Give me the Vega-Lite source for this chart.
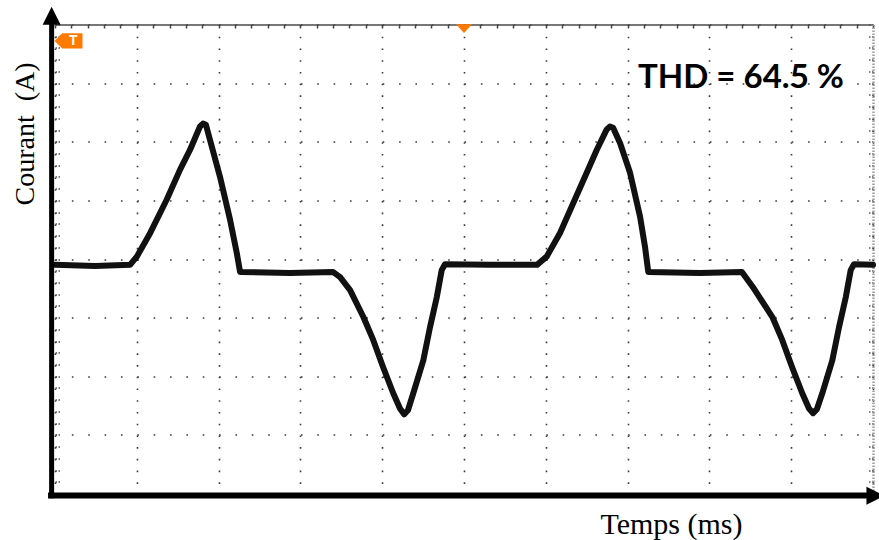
{
  "$schema": "https://vega.github.io/schema/vega-lite/v6.json",
  "width": 818,
  "height": 469,
  "autosize": "none",
  "padding": {"left": 55, "top": 24.5, "right": 6, "bottom": 46.5},
  "background": "white",
  "config": {"view": {"stroke": null}},
  "datasets": {
    "trace": [
      {"t": 0.00, "v": -0.10}, {"t": 1.96, "v": -0.12}, {"t": 3.67, "v": -0.10},
      {"t": 4.00, "v": 0.04}, {"t": 4.65, "v": 0.44}, {"t": 5.46, "v": 1.01},
      {"t": 6.11, "v": 1.52}, {"t": 6.60, "v": 1.86}, {"t": 7.09, "v": 2.26},
      {"t": 7.24, "v": 2.31}, {"t": 7.38, "v": 2.29}, {"t": 7.58, "v": 2.03},
      {"t": 8.07, "v": 1.40}, {"t": 8.56, "v": 0.67}, {"t": 8.89, "v": 0.10},
      {"t": 9.05, "v": -0.22}, {"t": 11.49, "v": -0.24}, {"t": 13.59, "v": -0.22},
      {"t": 13.94, "v": -0.31}, {"t": 14.43, "v": -0.53}, {"t": 15.08, "v": -0.99},
      {"t": 15.56, "v": -1.38}, {"t": 16.05, "v": -1.85}, {"t": 16.54, "v": -2.29},
      {"t": 16.87, "v": -2.55}, {"t": 17.07, "v": -2.65}, {"t": 17.26, "v": -2.58},
      {"t": 17.52, "v": -2.29}, {"t": 18.01, "v": -1.73}, {"t": 18.34, "v": -1.16},
      {"t": 18.67, "v": -0.65}, {"t": 18.91, "v": -0.19}, {"t": 19.07, "v": -0.09},
      {"t": 21.27, "v": -0.10}, {"t": 23.57, "v": -0.10}, {"t": 24.04, "v": 0.04},
      {"t": 24.69, "v": 0.44}, {"t": 25.35, "v": 0.96}, {"t": 26.00, "v": 1.47},
      {"t": 26.49, "v": 1.86}, {"t": 26.98, "v": 2.21}, {"t": 27.14, "v": 2.26},
      {"t": 27.29, "v": 2.24}, {"t": 27.63, "v": 1.98}, {"t": 28.12, "v": 1.47},
      {"t": 28.61, "v": 0.72}, {"t": 28.85, "v": 0.21}, {"t": 29.01, "v": -0.22},
      {"t": 31.54, "v": -0.24}, {"t": 33.59, "v": -0.22}, {"t": 34.13, "v": -0.48},
      {"t": 35.08, "v": -0.99}, {"t": 35.56, "v": -1.38}, {"t": 36.05, "v": -1.85},
      {"t": 36.54, "v": -2.29}, {"t": 36.87, "v": -2.55}, {"t": 37.07, "v": -2.63},
      {"t": 37.26, "v": -2.56}, {"t": 37.52, "v": -2.29}, {"t": 38.01, "v": -1.73},
      {"t": 38.34, "v": -1.16}, {"t": 38.67, "v": -0.65}, {"t": 38.91, "v": -0.19},
      {"t": 39.07, "v": -0.09}, {"t": 40.00, "v": -0.10}
    ]
  },
  "layer": [
    {
      "description": "Current waveform with the scope graticule (bottom and left axes)",
      "data": {"name": "trace"},
      "mark": {"type": "line", "color": "#111111", "strokeWidth": 6, "strokeJoin": "round", "strokeCap": "round"},
      "encoding": {
        "x": {
          "field": "t", "type": "quantitative",
          "scale": {"domain": [0, 40], "nice": false, "zero": false},
          "axis": {
            "orient": "bottom",
            "values": [0, 4, 8, 12, 16, 20, 24, 28, 32, 36, 40],
            "grid": true, "gridColor": "#3a3a3a", "gridWidth": 1.6, "gridDash": [1.6, 10.125],
            "ticks": false, "labels": false, "domain": false,
            "title": "Temps (ms)",
            "titleFont": "Liberation Serif", "titleFontSize": 30, "titleFontWeight": "normal", "titleColor": "#000000",
            "titleX": 616, "titleY": 39.5, "titleAlign": "center", "titleBaseline": "alphabetic"
          }
        },
        "y": {
          "field": "v", "type": "quantitative",
          "scale": {"domain": [-4, 4], "nice": false, "zero": false},
          "axis": {
            "orient": "left",
            "values": [-4, -3.8, -3.6, -3.4, -3.2, -3, -2.8, -2.6, -2.4, -2.2, -2, -1.8, -1.6, -1.4, -1.2, -1, -0.8, -0.6, -0.4, -0.2, 0, 0.2, 0.4, 0.6, 0.8, 1, 1.2, 1.4, 1.6, 1.8, 2, 2.2, 2.4, 2.6, 2.8, 3, 3.2, 3.4, 3.6, 3.8, 4],
            "grid": true, "gridColor": "#3a3a3a", "gridWidth": 1.6, "gridDash": [1.6, 14.76],
            "gridOpacity": {"condition": {"test": "abs(datum.value - round(datum.value)) < 0.01", "value": 1}, "value": 0},
            "ticks": true, "tickSize": -5, "tickColor": "#555555", "tickWidth": 1.5, "tickDash": [1.5, 1.5],
            "labels": false, "domain": false,
            "title": "Courant\u00a0 (A)",
            "titleFont": "Liberation Serif", "titleFontSize": 28, "titleFontWeight": "normal", "titleColor": "#000000",
            "titleAngle": -90, "titleX": -22, "titleY": 109, "titleAlign": "center", "titleBaseline": "alphabetic"
          }
        }
      }
    },
    {
      "description": "Trigger position marker on the top edge, with the top and right graticule borders",
      "data": {"values": [{"t": 20, "v": 3.93}]},
      "mark": {"type": "point", "shape": "M-1,-0.55L1,-0.55L0,0.55Z", "size": 256, "filled": true, "color": "#ff7a00", "opacity": 1},
      "encoding": {
        "x": {
          "field": "t", "type": "quantitative",
          "scale": {"domain": [0, 40], "nice": false, "zero": false},
          "axis": {
            "orient": "top",
            "values": [0, 0.8, 1.6, 2.4, 3.2, 4, 4.8, 5.6, 6.4, 7.2, 8, 8.8, 9.6, 10.4, 11.2, 12, 12.8, 13.6, 14.4, 15.2, 16, 16.8, 17.6, 18.4, 19.2, 20, 20.8, 21.6, 22.4, 23.2, 24, 24.8, 25.6, 26.4, 27.2, 28, 28.8, 29.6, 30.4, 31.2, 32, 32.8, 33.6, 34.4, 35.2, 36, 36.8, 37.6, 38.4, 39.2, 40],
            "grid": false, "labels": false, "title": null,
            "domain": true, "domainColor": "#4a4a4a", "domainWidth": 1.6,
            "ticks": true, "tickSize": -3.5, "tickColor": "#444444", "tickWidth": 1.5
          }
        },
        "y": {
          "field": "v", "type": "quantitative",
          "scale": {"domain": [-4, 4], "nice": false, "zero": false},
          "axis": {
            "orient": "right",
            "values": [-4, -3.8, -3.6, -3.4, -3.2, -3, -2.8, -2.6, -2.4, -2.2, -2, -1.8, -1.6, -1.4, -1.2, -1, -0.8, -0.6, -0.4, -0.2, 0, 0.2, 0.4, 0.6, 0.8, 1, 1.2, 1.4, 1.6, 1.8, 2, 2.2, 2.4, 2.6, 2.8, 3, 3.2, 3.4, 3.6, 3.8, 4],
            "grid": false, "labels": false, "title": null,
            "domain": true, "domainColor": "#a0a0a0", "domainWidth": 2.5, "domainDash": [1.5, 1.5],
            "ticks": true, "tickSize": -5, "tickColor": "#555555", "tickWidth": 1.5, "tickDash": [1.5, 1.5]
          }
        }
      }
    },
    {
      "description": "Trigger level marker (orange tag) on the left edge",
      "data": {"values": [{"t": 0.66, "v": 3.72}]},
      "mark": {"type": "point", "shape": "M-1,0L-0.45,-0.55L1,-0.55L1,0.55L-0.45,0.55Z", "size": 784, "filled": true, "color": "#ff7a00", "opacity": 1},
      "encoding": {
        "x": {"field": "t", "type": "quantitative", "scale": {"domain": [0, 40], "nice": false, "zero": false}, "axis": null},
        "y": {"field": "v", "type": "quantitative", "scale": {"domain": [-4, 4], "nice": false, "zero": false}, "axis": null}
      }
    },
    {
      "data": {"values": [{"t": 0.9, "v": 3.72, "label": "T"}]},
      "mark": {"type": "text", "font": "Liberation Sans", "fontSize": 14, "fontWeight": "bold", "color": "#ffffff", "baseline": "middle", "align": "center"},
      "encoding": {
        "x": {"field": "t", "type": "quantitative", "scale": {"domain": [0, 40], "nice": false, "zero": false}, "axis": null},
        "y": {"field": "v", "type": "quantitative", "scale": {"domain": [-4, 4], "nice": false, "zero": false}, "axis": null},
        "text": {"field": "label"}
      }
    },
    {
      "description": "Vertical arrow axis shaft",
      "data": {"values": [{"t": -0.165, "v": -4.08, "v2": 4.03}]},
      "mark": {"type": "rule", "color": "#000000", "strokeWidth": 5},
      "encoding": {
        "x": {"field": "t", "type": "quantitative", "scale": {"domain": [0, 40], "nice": false, "zero": false}, "axis": null},
        "y": {"field": "v", "type": "quantitative", "scale": {"domain": [-4, 4], "nice": false, "zero": false}, "axis": null},
        "y2": {"field": "v2"}
      }
    },
    {
      "description": "Horizontal arrow axis shaft",
      "data": {"values": [{"t": -0.34, "t2": 39.95, "v": -4.035}]},
      "mark": {"type": "rule", "color": "#000000", "strokeWidth": 6},
      "encoding": {
        "x": {"field": "t", "type": "quantitative", "scale": {"domain": [0, 40], "nice": false, "zero": false}, "axis": null},
        "x2": {"field": "t2"},
        "y": {"field": "v", "type": "quantitative", "scale": {"domain": [-4, 4], "nice": false, "zero": false}, "axis": null}
      }
    },
    {
      "description": "Arrow heads",
      "data": {"values": [{"t": -0.165, "v": 4.15, "dir": "up"}, {"t": 40.12, "v": -4.04, "dir": "right"}]},
      "mark": {"type": "point", "filled": true, "color": "#000000", "opacity": 1, "size": 324},
      "encoding": {
        "x": {"field": "t", "type": "quantitative", "scale": {"domain": [0, 40], "nice": false, "zero": false}, "axis": null},
        "y": {"field": "v", "type": "quantitative", "scale": {"domain": [-4, 4], "nice": false, "zero": false}, "axis": null},
        "shape": {"field": "dir", "type": "nominal", "scale": {"domain": ["up", "right"], "range": ["M-1,1L0,-1L1,1Z", "M-1,-1L1,0L-1,1Z"]}, "legend": null}
      }
    },
    {
      "description": "Total harmonic distortion annotation",
      "data": {"values": [{"t": 28.51, "v": 2.91, "label": "THD = 64.5 %"}]},
      "mark": {"type": "text", "font": "Lato", "fontSize": 33, "fontWeight": "bold", "color": "#000000", "align": "left", "baseline": "alphabetic"},
      "encoding": {
        "x": {"field": "t", "type": "quantitative", "scale": {"domain": [0, 40], "nice": false, "zero": false}, "axis": null},
        "y": {"field": "v", "type": "quantitative", "scale": {"domain": [-4, 4], "nice": false, "zero": false}, "axis": null},
        "text": {"field": "label"}
      }
    }
  ],
  "resolve": {"axis": {"x": "independent", "y": "independent"}}
}
